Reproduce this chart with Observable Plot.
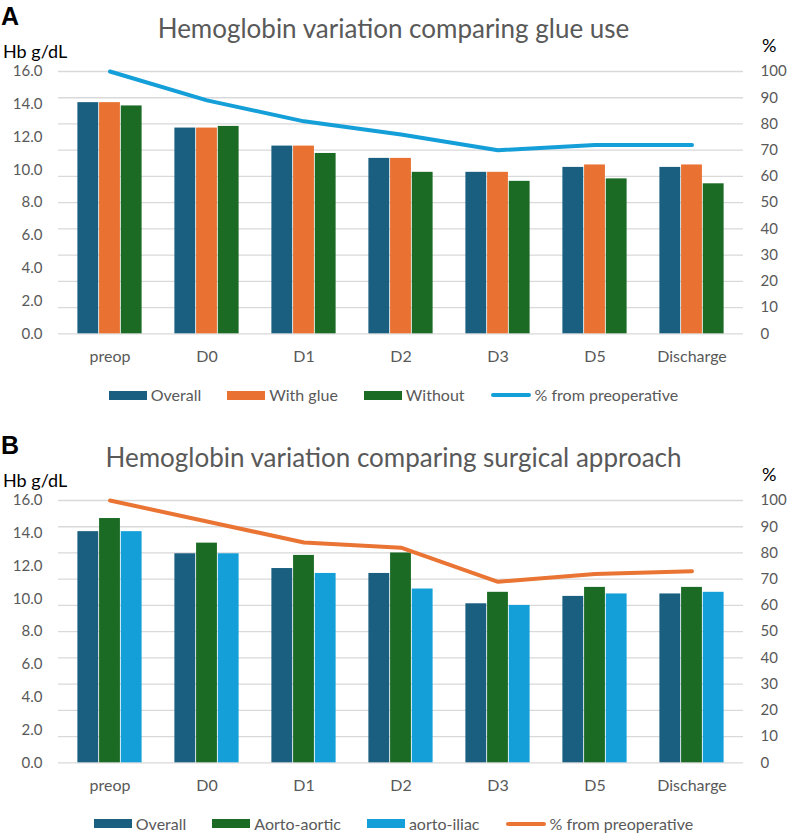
<!DOCTYPE html>
<html><head><meta charset="utf-8">
<script src="https://cdn.jsdelivr.net/npm/d3@7"></script>
<script src="https://cdn.jsdelivr.net/npm/@observablehq/plot@0.6"></script>
<style>
body{margin:0;background:#fff;width:787px;height:835px;overflow:hidden;font-family:Lato,sans-serif;position:relative}
.panel{position:absolute;left:0;width:787px;height:407px;}
.letter{position:absolute;left:1px;top:4px;font:bold 25px "Liberation Sans",Arial,sans-serif;color:#000;line-height:1;z-index:2}
.title{position:absolute;left:0;width:787px;text-align:center;top:15px;font-size:26px;color:#595959;line-height:1;white-space:nowrap;z-index:2}
.ylab{position:absolute;left:3px;top:42px;font-size:18px;color:#000;line-height:1;z-index:2}
.rlab{position:absolute;left:762px;top:36px;font-size:18px;color:#000;line-height:1;z-index:2}
.chart{position:absolute;left:0;top:55px;z-index:1}
.legend{position:absolute;left:0;width:787px;top:387px;display:flex;justify-content:center;gap:26px;font-size:16px;color:#595959;line-height:1;z-index:2}
.item{display:flex;align-items:center;gap:4px}
.sw{width:38px;height:9px}
.ln{width:40px;height:4px;border-radius:2px}
</style></head><body>
<div id="A" class="panel" style="top:0"></div>
<div id="B" class="panel" style="top:428.5px"></div>
<script>
const categories = ["preop", "D0", "D1", "D2", "D3", "D5", "Discharge"];
const hbTicks = [0, 2, 4, 6, 8, 10, 12, 14, 16];
const pctTicks = [0, 10, 20, 30, 40, 50, 60, 70, 80, 90, 100];

// Panel A: glue use
const titleA = "Hemoglobin variation comparing glue use";
const seriesNamesA = ["Overall", "With glue", "Without"];
const overallA = [14.1, 12.55, 11.45, 10.7, 9.85, 10.15, 10.15];
const glueA    = [14.1, 12.55, 11.45, 10.7, 9.85, 10.3, 10.3];
const withoutA = [13.9, 12.65, 11.0, 9.85, 9.3, 9.45, 9.15];
const pctA     = [100, 89, 81, 76, 70, 72, 72];
const colorsA  = ["#1a5e80", "#e97132", "#1b6b25"];
const lineColorA = "#149fd8";

// Panel B: surgical approach
const titleB = "Hemoglobin variation comparing surgical approach";
const seriesNamesB = ["Overall", "Aorto-aortic", "aorto-iliac"];
const overallB = [14.1, 12.75, 11.85, 11.55, 9.7, 10.15, 10.3];
const aorticB  = [14.9, 13.4, 12.65, 12.8, 10.4, 10.7, 10.7];
const iliacB   = [14.1, 12.75, 11.55, 10.6, 9.6, 10.3, 10.4];
const pctB     = [100, 92, 84, 82, 69, 72, 73];
const colorsB  = ["#1a5e80", "#1b6b25", "#149fd8"];
const lineColorB = "#ea7434";

const lineLabel = "% from preoperative";

function chart(seriesVals, colors, pct, lineColor) {
  const W = 787, H = 320, ml = 58, mr = 44, mt = 16, mb = 41.7;
  const bw = (W - ml - mr) / categories.length;
  const groupW = bw * 0.665, barW = groupW / 3;
  const k = 16 / 100;
  const marks = [
    Plot.gridY(pctTicks.map(p => p * k), {stroke: "#d9d9d9", strokeOpacity: 1, strokeWidth: 1.3}),
    ...seriesVals.map((vals, j) => {
      const left = (bw - groupW) / 2 + j * barW;
      return Plot.barY(vals.map((v, i) => ({cat: categories[i], v})),
        {x: "cat", y: "v", fill: colors[j], insetLeft: left, insetRight: bw - left - barW});
    }),
    Plot.line(pct.map((p, i) => ({cat: categories[i], v: p * k})),
      {x: "cat", y: "v", stroke: lineColor, strokeWidth: 4, strokeLinejoin: "round"}),
    Plot.axisY(hbTicks, {anchor: "left", tickSize: 0, tickPadding: 16, tickFormat: d => d.toFixed(1), label: null, fontSize: 15}),
    Plot.axisY(pctTicks.map(p => p * k), {anchor: "right", tickSize: 0, tickPadding: 17, tickFormat: d => String(Math.round(d / k)), label: null, fontSize: 15}),
    Plot.axisX({tickSize: 0, tickPadding: 17, label: null, fontSize: 16})
  ];
  return Plot.plot({
    width: W, height: H, marginLeft: ml, marginRight: mr, marginTop: mt, marginBottom: mb,
    x: {domain: categories, type: "band", padding: 0},
    y: {domain: [0, 16]},
    style: {fontFamily: "Lato", color: "#595959", background: "transparent", overflow: "visible"},
    marks
  });
}

function panel(id, letter, title, names, seriesVals, colors, pct, lineColor) {
  const root = document.getElementById(id);
  const add = (cls, text) => { const d = document.createElement("div"); d.className = cls; if (text != null) d.textContent = text; root.appendChild(d); return d; };
  add("letter", letter);
  add("title", title);
  add("ylab", "Hb g/dL");
  add("rlab", "%");
  const c = add("chart");
  c.appendChild(chart(seriesVals, colors, pct, lineColor));
  const lg = add("legend");
  names.forEach((n, j) => {
    const it = document.createElement("div"); it.className = "item";
    const sw = document.createElement("div"); sw.className = "sw"; sw.style.background = colors[j];
    const t = document.createElement("span"); t.textContent = n;
    it.appendChild(sw); it.appendChild(t); lg.appendChild(it);
  });
  const it = document.createElement("div"); it.className = "item";
  const sw = document.createElement("div"); sw.className = "ln"; sw.style.background = lineColor;
  const t = document.createElement("span"); t.textContent = lineLabel;
  it.appendChild(sw); it.appendChild(t); lg.appendChild(it);
}

panel("A", "A", titleA, seriesNamesA, [overallA, glueA, withoutA], colorsA, pctA, lineColorA);
panel("B", "B", titleB, seriesNamesB, [overallB, aorticB, iliacB], colorsB, pctB, lineColorB);
</script>
</body></html>
